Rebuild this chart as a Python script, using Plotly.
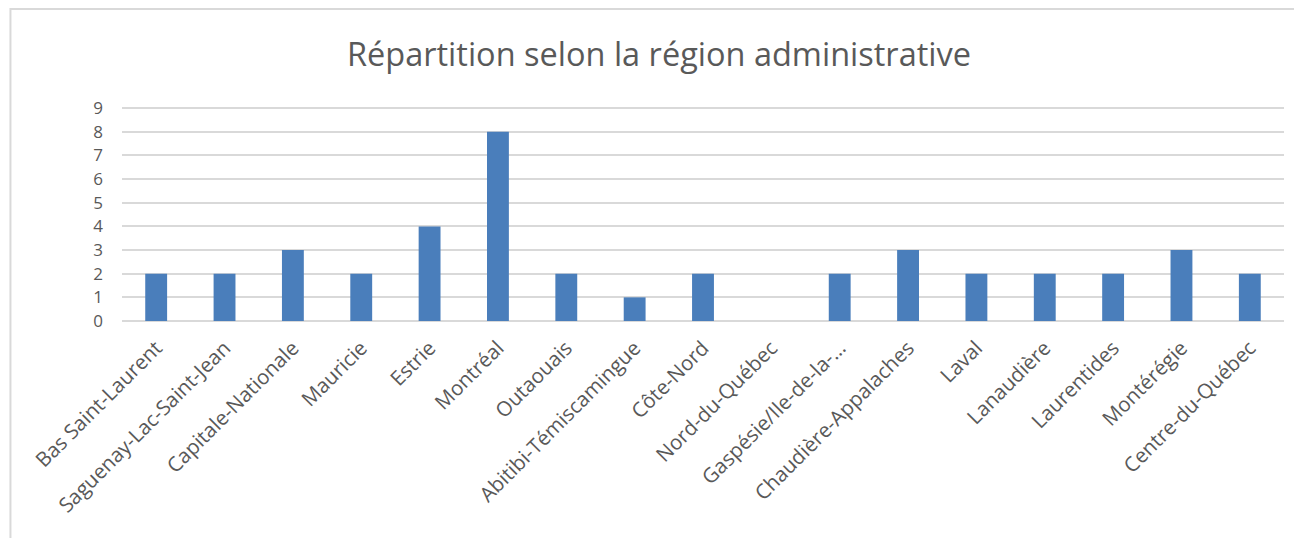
import plotly.graph_objects as go

# Régions administratives et nombre de répondants
regions = [
    "Bas Saint-Laurent", "Saguenay-Lac-Saint-Jean", "Capitale-Nationale", "Mauricie",
    "Estrie", "Montréal", "Outaouais", "Abitibi-Témiscamingue", "Côte-Nord",
    "Nord-du-Québec", "Gaspésie/Ile-de-la-…", "Chaudière-Appalaches", "Laval",
    "Lanaudière", "Laurentides", "Montérégie", "Centre-du-Québec",
]
nombres = [2, 2, 3, 2, 4, 8, 2, 1, 2, 0, 2, 3, 2, 2, 2, 3, 2]
y_ticks = list(range(0, 10))

texte = "#595959"
police = "Open Sans, Noto Sans, sans-serif"

fig = go.Figure(go.Bar(x=regions, y=nombres, marker_color="#4A7EBB", marker_line_width=0))

# la page ajoute une marge de 8 px autour du graphique
fig.update_layout(
    width=1302, height=538,
    margin=dict(l=114, r=26, t=99, b=225),
    paper_bgcolor="white", plot_bgcolor="white",
    bargap=0.68,
    showlegend=False,
    title=dict(text="Répartition selon la région administrative", x=0.5, xanchor="center",
               y=0.913, yanchor="middle", font=dict(size=32.5, color=texte, family=police)),
    font=dict(family=police, color=texte),
)
fig.update_xaxes(tickangle=-45, tickfont=dict(size=20.5, color=texte), showgrid=False,
                 showline=False, ticks="", automargin=False, ticklabelstandoff=10)
fig.update_yaxes(range=[0, 9.05], tickvals=y_ticks, tickfont=dict(size=17, color=texte),
                 showgrid=True, gridcolor="#d9d9d9", gridwidth=1.5, zeroline=True,
                 zerolinecolor="#d9d9d9", zerolinewidth=1.5, ticks="", ticklen=0,
                 automargin=False, ticklabelstandoff=18)

# cadre gris autour du graphique
fig.add_shape(type="rect", xref="paper", yref="paper", x0=-0.096, x1=1.04, y0=-1.1, y1=1.458,
              line=dict(color="#d9d9d9", width=2), fillcolor="rgba(0,0,0,0)", layer="below")

fig.write_html("out.html")
